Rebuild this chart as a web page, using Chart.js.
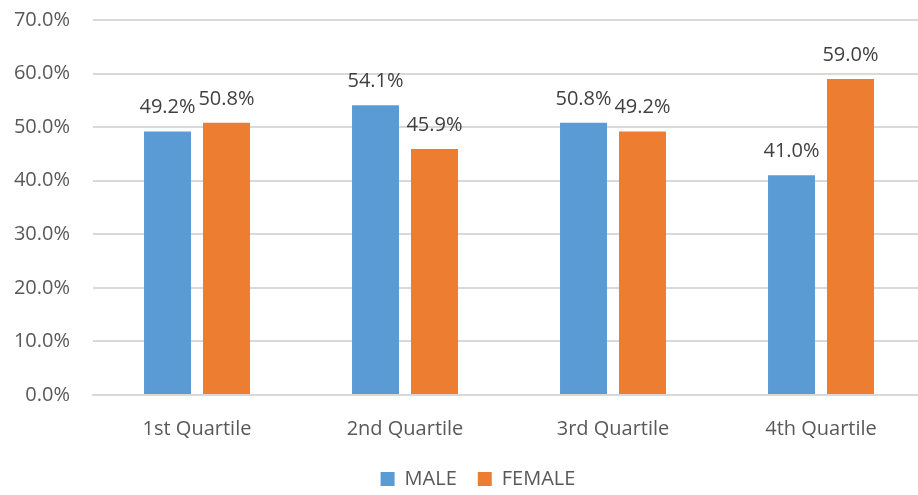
<!DOCTYPE html>
<html>
<head>
<meta charset="utf-8">
<script src="https://cdn.jsdelivr.net/npm/chart.js@4"></script>
<style>
html,body{margin:0;padding:0;background:#fff;overflow:hidden;width:918px;height:495px;}
canvas{display:block;}
</style>
</head>
<body>
<canvas id="c" width="956" height="495"></canvas>
<script>
const categories = ['1st Quartile', '2nd Quartile', '3rd Quartile', '4th Quartile'];
const maleValues = [49.2, 54.1, 50.8, 41.0];
const femaleValues = [50.8, 45.9, 49.2, 59.0];
const seriesNames = ['MALE', 'FEMALE'];
const yTicks = [0, 10, 20, 30, 40, 50, 60, 70];

const FONT = '"Open Sans", sans-serif';

const valueLabels = {
  id: 'valueLabels',
  afterDatasetsDraw(chart) {
    const ctx = chart.ctx;
    ctx.save();
    ctx.font = '20px ' + FONT;
    ctx.fillStyle = '#404040';
    ctx.textAlign = 'center';
    ctx.textBaseline = 'alphabetic';
    chart.data.datasets.forEach((ds, i) => {
      const meta = chart.getDatasetMeta(i);
      meta.data.forEach((bar, j) => {
        ctx.fillText(ds.data[j].toFixed(1) + '%', bar.x, bar.y - 18);
      });
    });
    ctx.restore();
  }
};

const legendShift = {
  id: 'legendShift',
  afterLayout(chart) {
    const l = chart.legend;
    if (l) { l.left += 15.5; l.right += 15.5; }
  }
};

new Chart(document.getElementById('c'), {
  type: 'bar',
  data: {
    labels: categories,
    datasets: [
      { label: seriesNames[0], data: maleValues, backgroundColor: '#5B9BD5' },
      { label: seriesNames[1], data: femaleValues, backgroundColor: '#ED7D31' }
    ]
  },
  options: {
    responsive: false,
    animation: false,
    devicePixelRatio: 1,
    layout: { autoPadding: false, padding: { top: 20, right: 31, left: 0, bottom: -4 } },
    datasets: { bar: { categoryPercentage: 0.567, barPercentage: 0.797 } },
    plugins: {
      legend: {
        position: 'bottom',
        labels: {
          font: { family: FONT, size: 20 },
          color: '#595959',
          boxWidth: 14,
          boxHeight: 14,
          padding: 21
        }
      },
      tooltip: { enabled: false }
    },
    scales: {
      x: {
        grid: { display: false, drawTicks: false },
        border: { display: true, color: '#d9d9d9', width: 2 },
        ticks: { font: { family: FONT, size: 20 }, color: '#595959', padding: 22 },
        afterFit(s) { s.height = 53; }
      },
      y: {
        min: 0, max: 70,
        afterBuildTicks(s) { s.ticks = yTicks.map(v => ({ value: v })); },
        grid: { color: '#d9d9d9', lineWidth: 2, drawTicks: false },
        border: { display: false },
        ticks: {
          font: { family: FONT, size: 20 },
          color: '#595959',
          padding: 23,
          callback: v => Number(v).toFixed(1) + '%'
        },
        afterFit(s) { s.width = 93; s.paddingTop = 0; }
      }
    }
  },
  plugins: [valueLabels, legendShift]
});
</script>
</body>
</html>
